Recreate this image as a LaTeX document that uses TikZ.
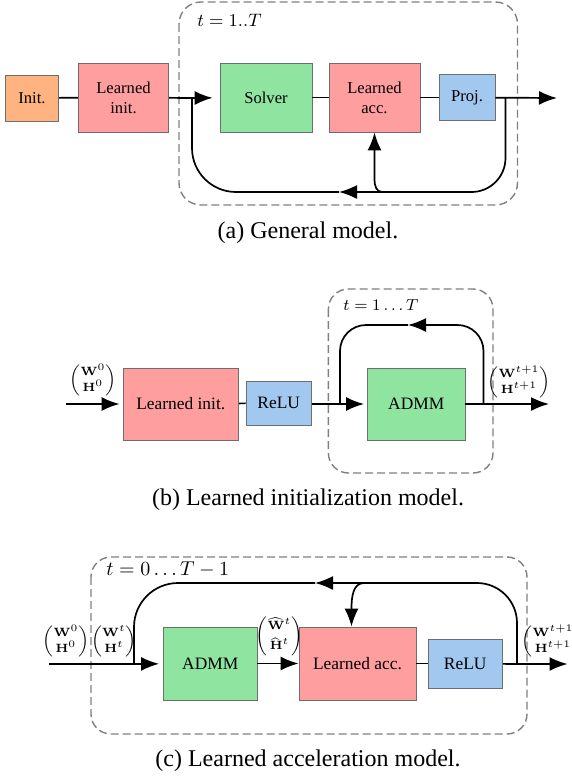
\documentclass[tikz,border=0pt]{standalone}
\usepackage{amsmath}
\usepackage[no-math]{fontspec}
\setmainfont{Liberation Serif}
\usetikzlibrary{arrows.meta,calc}
\definecolor{lpink}{RGB}{255,158,158}
\definecolor{lgreen}{RGB}{143,228,160}
\definecolor{lblue}{RGB}{162,200,240}
\definecolor{lorange}{RGB}{255,179,128}
\definecolor{bord}{RGB}{110,110,110}
\definecolor{grpcol}{RGB}{128,128,128}
\newcommand\mlab[1]{{\fontsize{6.5}{8}\selectfont$\begin{pmatrix}#1\end{pmatrix}$}}
\begin{document}
\begin{tikzpicture}[x=0.5pt,y=-0.5pt,
  box/.style={draw=bord, line width=0.45pt, inner sep=0pt, align=center},
  sz/.style 2 args={minimum width=#1, minimum height=#2},
  fa/.style={font=\fontsize{8.3}{10}\selectfont},
  fb/.style={font=\fontsize{8.7}{10.5}\selectfont},
  conn/.style={line width=0.85pt},
  arr/.style={conn, -{Latex[length=9pt,width=7pt]}},
  grp/.style={draw=grpcol, line width=0.7pt, dash pattern=on 4pt off 2pt, rounded corners=10pt},
  captxt/.style={inner sep=0pt, font=\fontsize{12}{14}\selectfont},
  lbl/.style={inner sep=0pt}
]
\useasboundingbox (0,0) rectangle (572,778);

% ---------------- (a) ----------------
\draw[grp, rounded corners=11pt] (179,2) rectangle (517.5,205);
\node[lbl, anchor=west, font=\fontsize{9.5}{11}\selectfont] (ta) at (197,20) {$t=1..T$};
\node[box, fill=lorange, fa, sz={26.75pt}{23pt}] (init) at (32,98) {Init.};
\node[box, fill=lpink, fa, sz={45.25pt}{34.5pt}] (lia) at (123.5,97.5) {Learned\\init.};
\node[box, fill=lgreen, fa, sz={46pt}{34.5pt}] (solver) at (266,97.5) {Solver};
\node[box, fill=lpink, fa, sz={45.5pt}{34.5pt}] (laa) at (374.5,97.5) {Learned\\acc.};
\node[box, fill=lblue, fa, sz={28pt}{23pt}] (proj) at (467,97.5) {Proj.};
\coordinate (a-fbL) at (192,98);
\coordinate (a-fbR) at (505.5,98);
\coordinate (a-tip) at (339,192);
\coordinate (a-br) at (382,192);
\coordinate (a-brv) at (374.5,180);
\coordinate (a-out) at (557,98);
\draw[conn] (init) -- (lia);
\draw[conn] (lia) -- (a-fbL);
\draw[arr, shorten >=3.5pt] (a-fbL) -- (solver);
\draw[conn] (solver) -- (laa);
\draw[conn] (laa) -- (proj);
\draw[arr] (proj) -- (a-out);
\draw[arr, rounded corners=17pt] (a-fbR) |- (a-tip);
\draw[conn, rounded corners=22pt] (a-tip) -| (a-fbL);
\draw[arr] (a-br) to[out=180,in=-90] (a-brv) -- (laa.south);
\node[captxt] (capa) at (308,233) {(a) General model.};

% ---------------- (b) ----------------
\draw[grp] (328.4,289) rectangle (493,473);
\node[lbl, anchor=west, font=\fontsize{8.5}{10}\selectfont] (tb) at (343,305) {$t=1\dots T$};
\node[box, fill=lpink, fb, sz={57.75pt}{36pt}] (lib) at (180.75,404) {Learned init.};
\node[box, fill=lblue, fb, sz={32.75pt}{22pt}] (relub) at (278.75,403) {ReLU};
\node[box, fill=lgreen, fb, sz={48.75pt}{36pt}] (admmb) at (416.25,404) {ADMM};
\coordinate (b-in) at (66,404);
\coordinate (b-fbL) at (340,404);
\coordinate (b-fbR) at (483.5,404);
\coordinate (b-tip) at (408,325);
\coordinate (b-out) at (549,404);
\draw[arr, shorten >=1.5pt] (b-in) -- (lib);
\draw[conn] (lib) -- (relub);
\draw[conn] (relub.east |- b-fbL) -- (b-fbL);
\draw[arr, shorten >=1.5pt] (b-fbL) -- (admmb);
\draw[arr] (admmb) -- (b-out);
\draw[arr, rounded corners=13pt] (b-fbR) |- (b-tip);
\draw[conn, rounded corners=13pt] (b-tip) -| (b-fbL);
\node[lbl] (b-l0) at (93,380) {\mlab{\mathbf{W}^{0}\\ \mathbf{H}^{0}}};
\node[lbl] (b-l1) at (519,382) {\mlab{\mathbf{W}^{t+1}\\ \mathbf{H}^{t+1}}};
\node[captxt] (capb) at (308,499.5) {(b) Learned initialization model.};

% ---------------- (c) ----------------
\draw[grp] (91,557) rectangle (527,734);
\node[lbl, anchor=west, font=\fontsize{10}{12}\selectfont] (tc) at (106,569) {$t=0\dots T-1$};
\node[box, fill=lgreen, fb, sz={46.75pt}{36.5pt}] (admmc) at (210.25,663.5) {ADMM};
\node[box, fill=lpink, fb, sz={58.5pt}{36.5pt}] (lac) at (357.5,663.5) {Learned acc.};
\node[box, fill=lblue, fb, sz={37.25pt}{24.5pt}] (reluc) at (465.25,663.5) {ReLU};
\coordinate (c-in) at (48.5,664);
\coordinate (c-fbL) at (134,664);
\coordinate (c-fbR) at (517,664);
\coordinate (c-tip) at (315,583);
\coordinate (c-br) at (364,583);
\coordinate (c-out) at (567.5,664);
\draw[conn] (c-in) -- (c-fbL);
\draw[arr, shorten >=2pt] (c-fbL) -- (admmc);
\draw[arr] (admmc) -- (lac);
\draw[conn] (lac) -- (reluc);
\draw[conn] (reluc) -- (c-fbR);
\draw[arr] (c-fbR) -- (c-out);
\draw[arr, rounded corners=20pt] (c-fbR) |- (c-tip);
\draw[conn, rounded corners=22pt] (c-tip) -| (c-fbL);
\draw[arr] (c-br) to[out=180,in=90] ([xshift=-3pt,yshift=9pt]lac.north) -- ([xshift=-3pt]lac.north);
\node[lbl] (c-l0) at (66,641) {\mlab{\mathbf{W}^{0}\\ \mathbf{H}^{0}}};
\node[lbl] (c-l1) at (114,641) {\mlab{\mathbf{W}^{t}\\ \mathbf{H}^{t}}};
\node[lbl] (c-l2) at (279.5,636) {\mlab{\widehat{\mathbf{W}}^{t}\\[1.5pt] \widehat{\mathbf{H}}^{t}}};
\node[lbl] (c-l3) at (553,641) {\mlab{\mathbf{W}^{t+1}\\ \mathbf{H}^{t+1}}};
\node[captxt] (capc) at (308,760.5) {(c) Learned acceleration model.};
\end{tikzpicture}
\end{document}
